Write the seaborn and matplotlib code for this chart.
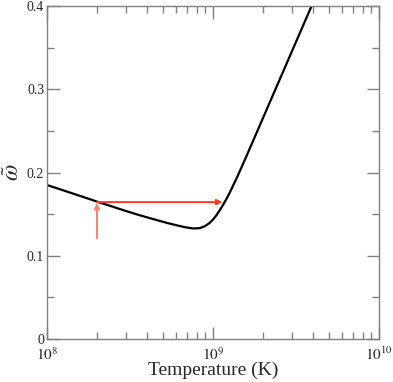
import numpy as np
import pandas as pd
import matplotlib
matplotlib.use("Agg")
import matplotlib.pyplot as plt
import seaborn as sns
from matplotlib.ticker import LogLocator, MultipleLocator, FixedLocator, FuncFormatter, NullFormatter

sns.set_style("white")
plt.rcParams['font.family'] = ['Liberation Serif', 'DejaVu Serif']
plt.rcParams['mathtext.fontset'] = 'stix'

log_temp = [8.0, 8.08, 8.16, 8.24, 8.31, 8.40, 8.48, 8.56, 8.62, 8.68, 8.74, 8.80, 8.84,
            8.88, 8.92, 8.95, 8.98, 9.00, 9.02, 9.04, 9.06, 9.08, 9.10, 9.15, 9.20, 9.25,
            9.30, 9.35, 9.40, 9.45, 9.50, 9.55, 9.60]
omega = [0.185, 0.1798, 0.1745, 0.1692, 0.1645, 0.1587, 0.1535, 0.1486, 0.1452, 0.1418,
         0.1386, 0.1357, 0.1340, 0.1328, 0.1332, 0.1355, 0.1395, 0.1435, 0.1485, 0.1545,
         0.161, 0.168, 0.1755, 0.1965, 0.219, 0.242, 0.265, 0.288, 0.311, 0.334, 0.357,
         0.380, 0.403]
arrow_T = [2.0e8, 1.14e9]
arrow_y = [0.121, 0.1645]

df = pd.DataFrame({"T": [10 ** v for v in log_temp], "omega": omega})

fig = plt.figure(figsize=(3.93, 3.82), dpi=100)
ax = fig.add_axes([0.1196, 0.1126, 0.8448, 0.8714])
sns.lineplot(data=df, x="T", y="omega", ax=ax, color="black", lw=1.6)
ax.set_xscale("log")
ax.set_xlim(1e8, 1e10)
ax.set_ylim(0, 0.4)

# arrows
ax.annotate("", xy=(arrow_T[0], arrow_y[1] - 0.001), xytext=(arrow_T[0], arrow_y[0]),
            arrowprops=dict(arrowstyle="-|>", color="#ff8070", lw=1.4,
                            mutation_scale=8, shrinkA=0, shrinkB=0))
ax.annotate("", xy=(arrow_T[1], arrow_y[1]), xytext=(arrow_T[0], arrow_y[1]),
            arrowprops=dict(arrowstyle="-|>", color="#ff3b1f", lw=1.4,
                            mutation_scale=8, shrinkA=0, shrinkB=0))

for s in ax.spines.values():
    s.set_color("#808080")
    s.set_linewidth(1.0)

ax.xaxis.set_major_locator(FixedLocator([1e8, 1e9, 1e10]))
ax.xaxis.set_minor_locator(LogLocator(base=10, subs=np.arange(2, 10)))
ax.xaxis.set_minor_formatter(NullFormatter())
ax.xaxis.set_major_formatter(FuncFormatter(lambda v, p: r"$10^{%d}$" % round(np.log10(v))))
ax.yaxis.set_major_locator(MultipleLocator(0.1))
ax.yaxis.set_minor_locator(MultipleLocator(0.05))
ax.yaxis.set_major_formatter(FuncFormatter(lambda v, p: "0" if abs(v) < 1e-9 else "%.1f" % v))
ax.tick_params(which="both", direction="in", top=True, right=True, color="#808080",
               bottom=True, left=True)
ax.tick_params(which="major", length=9, width=1, labelsize=10)
ax.tick_params(axis="x", which="major", pad=5, labelsize=11)
ax.tick_params(axis="y", which="major", pad=2)
ax.tick_params(which="minor", length=5, width=1)

ax.set_xlabel("Temperature (K)", fontsize=14, labelpad=-1)
ax.set_ylabel(r"$\tilde{\omega}$", fontsize=17, labelpad=2)

fig.savefig("out.png", dpi=100)
